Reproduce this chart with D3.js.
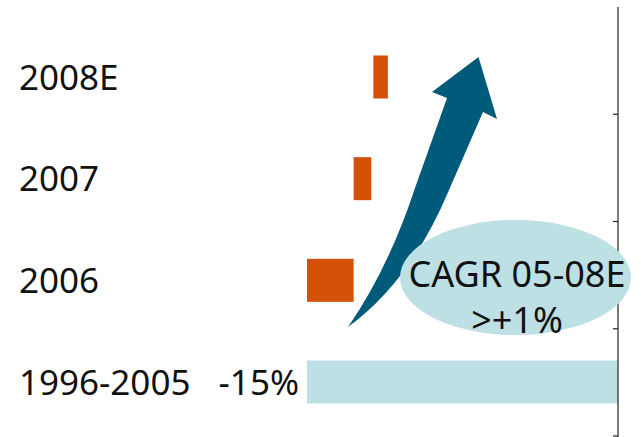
<!DOCTYPE html>
<html>
<head>
<meta charset="utf-8">
<script src="https://cdn.jsdelivr.net/npm/d3@7"></script>
<style>
  html, body { margin: 0; padding: 0; background: #fff; }
  svg { display: block; }
  text { font-family: "Noto Sans", "Open Sans", sans-serif; fill: #111; }
</style>
</head>
<body>
<svg id="chart" width="641" height="437"></svg>
<script>
// ---- data ----
const categories = ["2008E", "2007", "2006", "1996-2005"];
const barStart   = [-11.8, -12.75, -15, -15];
const barEnd     = [-11.1, -11.9, -12.75, 0];
const barType    = ["change", "change", "change", "base"];
const valueLabels = ["", "", "", "-15%"];
const cagrLines  = ["CAGR 05-08E", ">+1%"];

const W = 641, H = 437;
const svg = d3.select("#chart");

const x = d3.scaleLinear().domain([-15, 0]).range([307, 618]);
const yBand = d3.scaleBand().domain(categories).range([7, 436]);
const yPos = d3.scalePoint().domain(categories).range([77, 382]);
const barH = 43;

const colors = { change: "#D65108", base: "#BCE0E4" };

// bars
svg.append("g").selectAll("rect")
  .data(categories)
  .join("rect")
  .attr("x", (d, i) => x(Math.min(barStart[i], barEnd[i])))
  .attr("width", (d, i) => Math.abs(x(barEnd[i]) - x(barStart[i])))
  .attr("y", d => yPos(d) - barH / 2)
  .attr("height", barH)
  .attr("fill", (d, i) => colors[barType[i]]);

// axis at the right (value 0)
const axisG = svg.append("g").attr("transform", `translate(${x(0)},0)`);
axisG.append("line")
  .attr("x1", 0).attr("x2", 0)
  .attr("y1", yBand.range()[0]).attr("y2", H)
  .attr("stroke", "#222").attr("stroke-width", 1.2);
const tickYs = categories.slice(1).map(c => yBand(c)).concat([yBand.range()[1]]);
axisG.selectAll("line.tick")
  .data(tickYs)
  .join("line")
  .attr("class", "tick")
  .attr("x1", -5).attr("x2", 0)
  .attr("y1", d => d).attr("y2", d => d)
  .attr("stroke", "#222").attr("stroke-width", 1.2);

// category labels
svg.append("g").selectAll("text")
  .data(categories)
  .join("text")
  .attr("x", 19)
  .attr("y", d => yPos(d) + 12.5)
  .attr("font-size", 35)
  .text(d => d);

// value labels
svg.append("g").selectAll("text")
  .data(categories)
  .join("text")
  .attr("x", 299)
  .attr("y", d => yPos(d) + 12.5)
  .attr("text-anchor", "end")
  .attr("font-size", 35)
  .text((d, i) => valueLabels[i]);

// curved arrow annotation
svg.append("path")
  .attr("d", "M348,327 Q388.5,268.5 415,188 L447,98 L432,92 L478.5,57 L497,119 L483,112 L449,190 Q411,281 348,327 Z")
  .attr("fill", "#005A7A");

// CAGR ellipse
svg.append("ellipse")
  .attr("cx", 515.5).attr("cy", 277.5)
  .attr("rx", 115.5).attr("ry", 57.5)
  .attr("fill", "#BCE0E4");

svg.append("g").selectAll("text")
  .data(cagrLines)
  .join("text")
  .attr("x", 517)
  .attr("y", (d, i) => 287 + i * 46)
  .attr("text-anchor", "middle")
  .attr("font-size", 36)
  .text(d => d);
</script>
</body>
</html>
